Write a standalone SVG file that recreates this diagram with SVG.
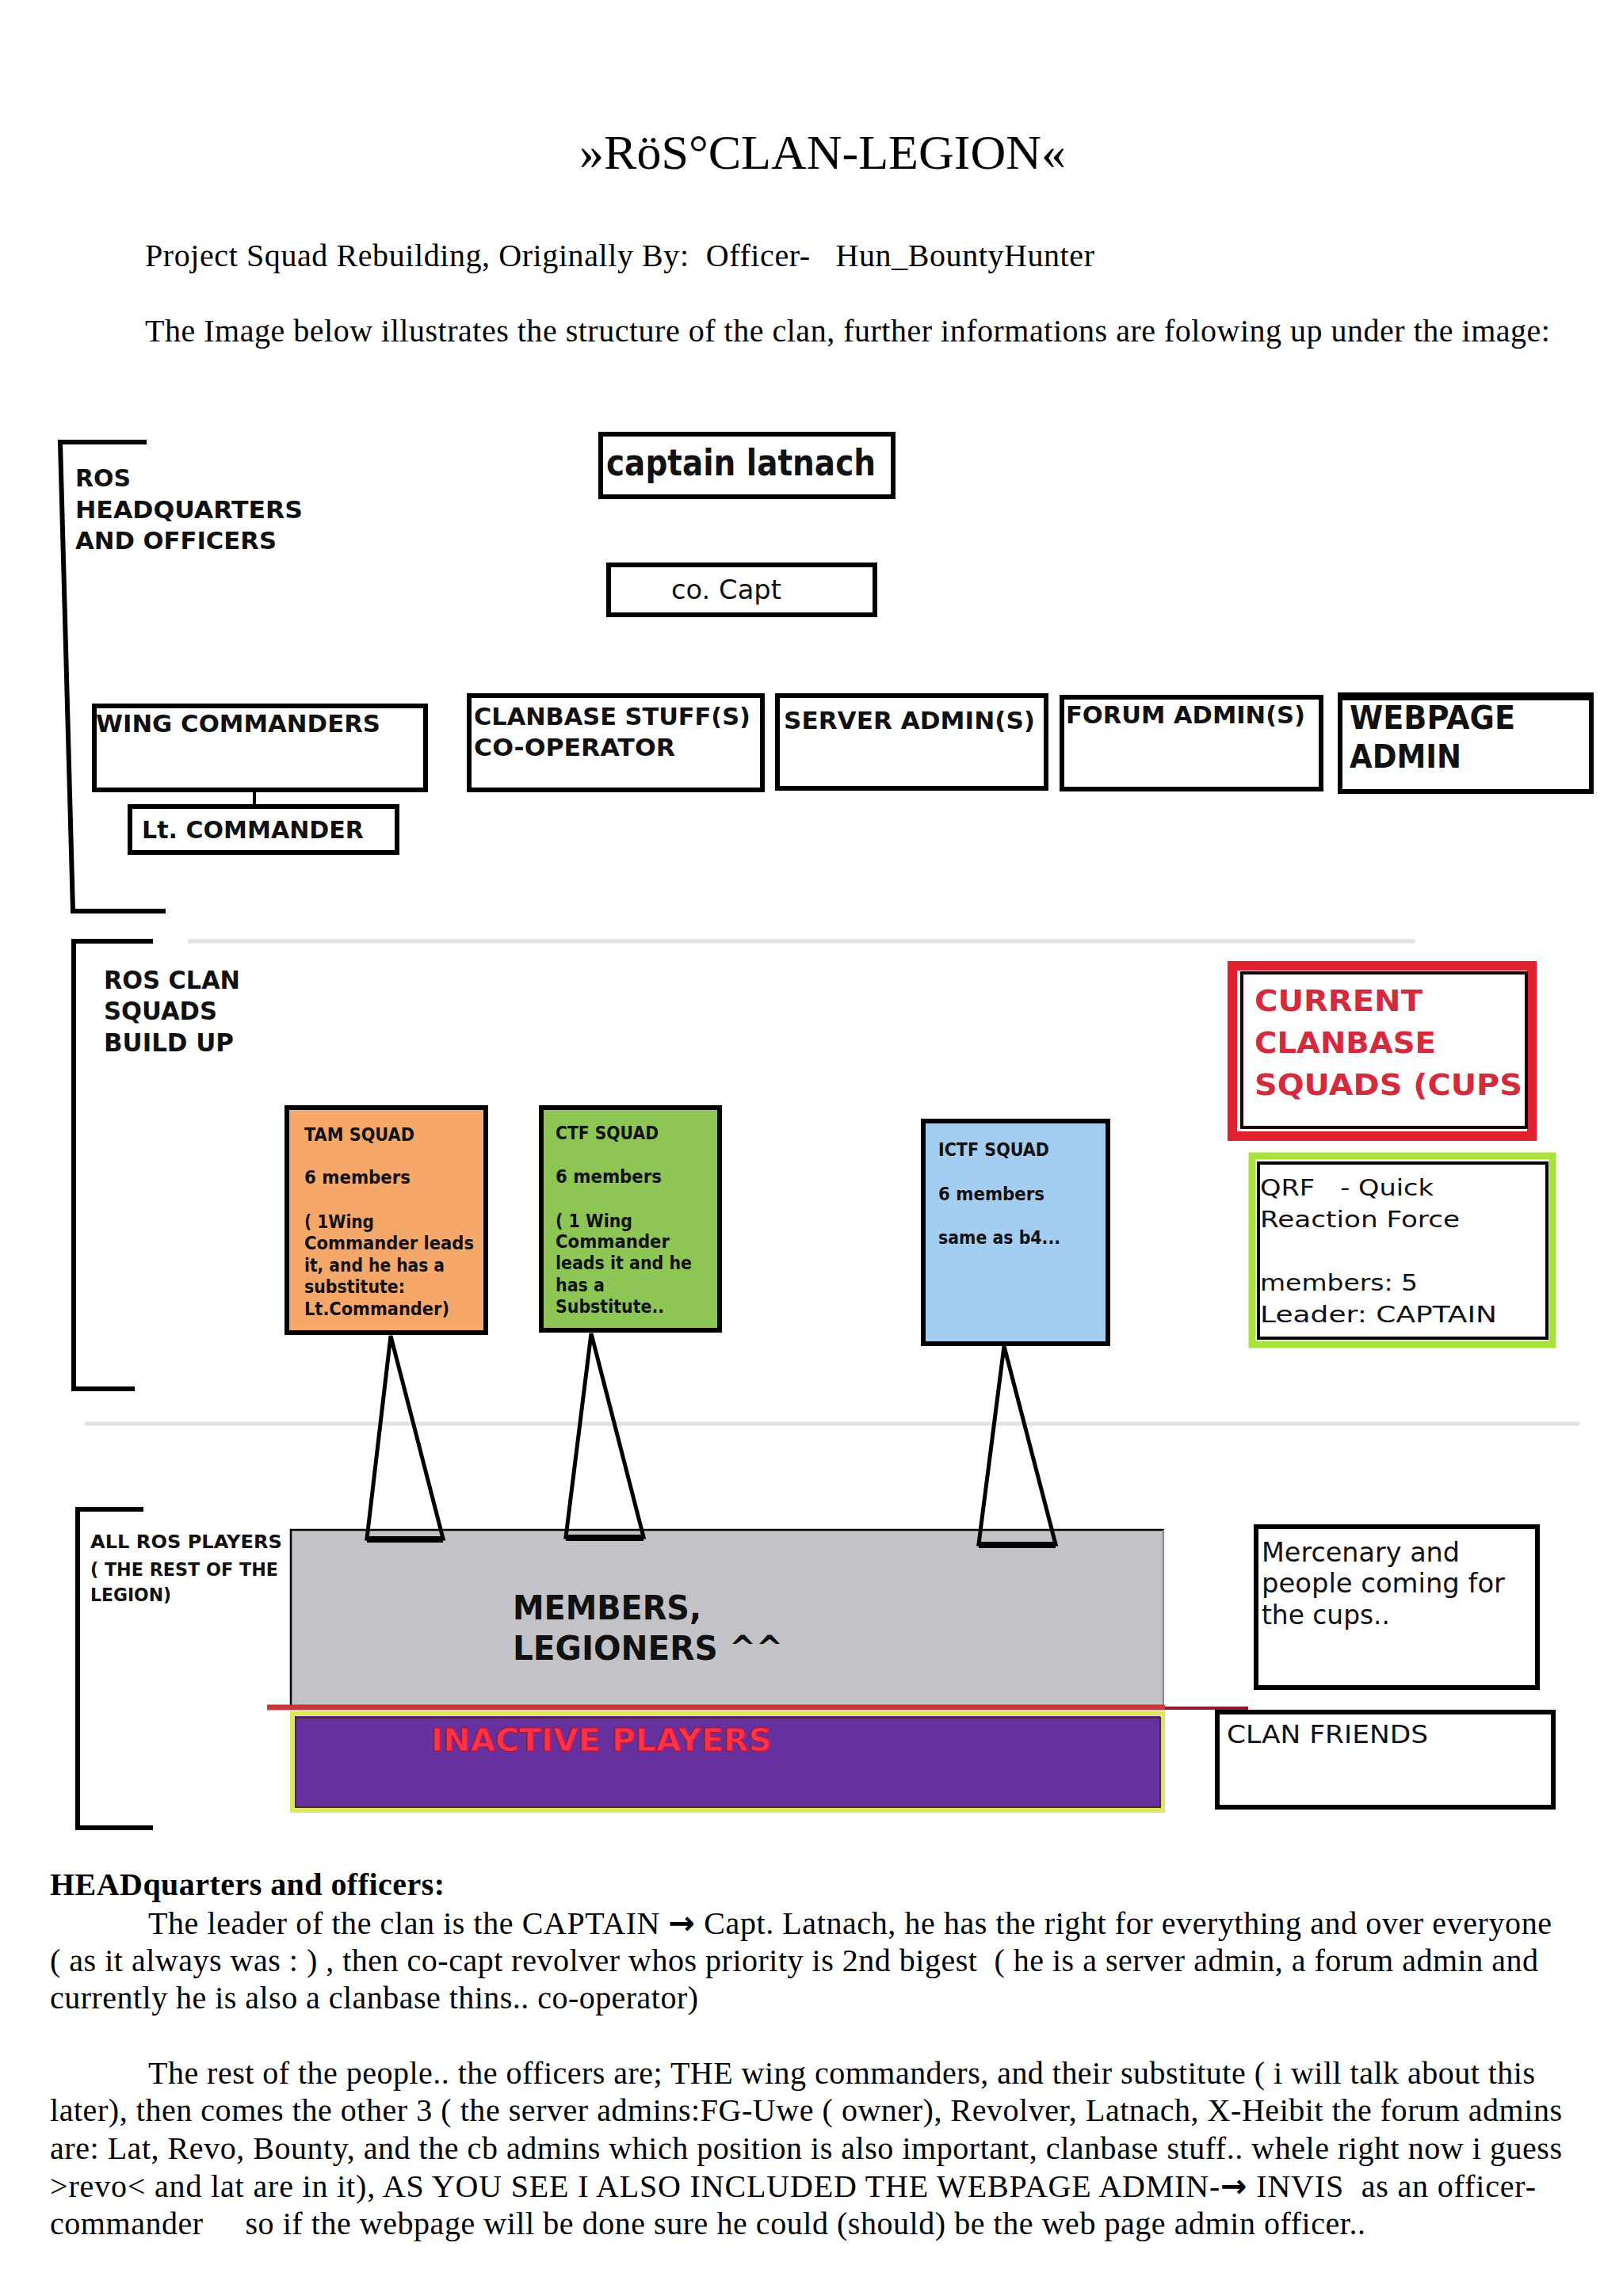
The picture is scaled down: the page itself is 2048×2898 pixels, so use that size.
<svg xmlns="http://www.w3.org/2000/svg" width="2048" height="2898" viewBox="0 0 2048 2898">
<style>
.serif{font-family:"Liberation Serif","Times New Roman",serif;fill:#000}
.d{font-family:"DejaVu Sans","Liberation Sans",sans-serif;fill:#111}
.b{font-weight:bold}
.arr{font-family:"DejaVu Sans",sans-serif;font-weight:bold}
.box{fill:#fff;stroke:#000;stroke-width:6}
.brk{fill:none;stroke:#000;stroke-width:6}
.sep{stroke:#e2e2e2;stroke-width:5}
.stand{fill:none;stroke:#000;stroke-width:5;stroke-linejoin:miter}
.bar{stroke:#000;stroke-width:8}
</style>
<rect width="2048" height="2898" fill="#fff"/>

<g id="header">
<text class="serif" x="1038" y="213" font-size="62" text-anchor="middle" textLength="614" lengthAdjust="spacingAndGlyphs">»RöS°CLAN-LEGION«</text>
<text class="serif" x="183" y="336" font-size="40" xml:space="preserve" textLength="1198" lengthAdjust="spacing">Project Squad Rebuilding, Originally By:  Officer-   Hun_BountyHunter</text>
<text class="serif" x="183" y="431" font-size="40" textLength="1773" lengthAdjust="spacing">The Image below illustrates the structure of the clan, further informations are folowing up under the image:</text>
</g>

<g id="brackets">
<path class="brk" d="M185,558 L76,558 L92,1150 L209,1150"/>
<path class="brk" d="M193,1188 L93,1188 L93,1753 L170,1753"/>
<path class="brk" d="M181,1905 L98,1905 L98,2307 L193,2307"/>
<line class="sep" x1="237" y1="1188" x2="1786" y2="1188"/>
<line class="sep" x1="107" y1="1797" x2="1993" y2="1797"/>
</g>

<g id="label-hq">
<text class="d b" font-size="31" x="95" y="614" textLength="70" lengthAdjust="spacingAndGlyphs">ROS</text>
<text class="d b" font-size="31" x="95" y="654" textLength="287" lengthAdjust="spacingAndGlyphs">HEADQUARTERS</text>
<text class="d b" font-size="31" x="95" y="693" textLength="254" lengthAdjust="spacingAndGlyphs">AND OFFICERS</text>
</g>

<g id="captain">
<rect class="box" x="758" y="548" width="369" height="79"/>
<text class="d b" font-size="47" x="765" y="600" textLength="340" lengthAdjust="spacingAndGlyphs">captain latnach</text>
</g>

<g id="co-capt">
<rect class="box" x="768" y="713" width="336" height="63"/>
<text class="d" font-size="33" x="847" y="756" textLength="139" lengthAdjust="spacingAndGlyphs">co. Capt</text>
</g>

<g id="wing-commanders">
<rect class="box" x="119" y="891" width="418" height="106"/>
<text class="d b" font-size="31" x="121" y="924" textLength="359" lengthAdjust="spacingAndGlyphs">WING COMMANDERS</text>
</g>

<g id="lt-commander">
<rect class="box" x="164" y="1018" width="337" height="58"/>
<text class="d b" font-size="31" x="179" y="1058" textLength="280" lengthAdjust="spacingAndGlyphs">Lt. COMMANDER</text>
</g>

<g id="clanbase-stuff">
<rect class="box" x="592" y="878" width="370" height="119"/>
<text class="d b" font-size="31" x="598" y="915" textLength="349" lengthAdjust="spacingAndGlyphs">CLANBASE STUFF(S)</text>
<text class="d b" font-size="31" x="598" y="954" textLength="254" lengthAdjust="spacingAndGlyphs">CO-OPERATOR</text>
</g>

<g id="server-admin">
<rect class="box" x="981" y="878" width="339" height="117"/>
<text class="d b" font-size="31" x="989" y="920" textLength="317" lengthAdjust="spacingAndGlyphs">SERVER ADMIN(S)</text>
</g>

<g id="forum-admin">
<rect class="box" x="1340" y="880" width="327" height="116"/>
<text class="d b" font-size="31" x="1345" y="913" textLength="302" lengthAdjust="spacingAndGlyphs">FORUM ADMIN(S)</text>
</g>

<g id="webpage-admin">
<rect class="box" x="1691" y="879" width="317" height="120" stroke-width="7"/>
<line x1="1688" y1="879" x2="2011" y2="879" stroke="#000" stroke-width="10"/>
<text class="d b" font-size="40" x="1703" y="920" textLength="209" lengthAdjust="spacingAndGlyphs">WEBPAGE</text>
<text class="d b" font-size="40" x="1703" y="969" textLength="141" lengthAdjust="spacingAndGlyphs">ADMIN</text>
</g>

<g id="label-squads">
<text class="d b" font-size="32" x="131" y="1248" textLength="172" lengthAdjust="spacingAndGlyphs">ROS CLAN</text>
<text class="d b" font-size="32" x="131" y="1287" textLength="143" lengthAdjust="spacingAndGlyphs">SQUADS</text>
<text class="d b" font-size="32" x="131" y="1327" textLength="164" lengthAdjust="spacingAndGlyphs">BUILD UP</text>
</g>

<g id="tam-squad">
<rect x="362" y="1398" width="251" height="284" fill="#f6a86a" stroke="#000" stroke-width="6"/>
<g class="d b" font-size="23">
<text x="384" y="1440" textLength="139" lengthAdjust="spacingAndGlyphs">TAM SQUAD</text>
<text x="384" y="1494" textLength="134" lengthAdjust="spacingAndGlyphs">6 members</text>
<text x="384" y="1550" textLength="88" lengthAdjust="spacingAndGlyphs">( 1Wing</text>
<text x="384" y="1577" textLength="214" lengthAdjust="spacingAndGlyphs">Commander leads</text>
<text x="384" y="1605" textLength="177" lengthAdjust="spacingAndGlyphs">it, and he has a</text>
<text x="384" y="1632" textLength="127" lengthAdjust="spacingAndGlyphs">substitute:</text>
<text x="384" y="1660" textLength="183" lengthAdjust="spacingAndGlyphs">Lt.Commander)</text>
</g>
</g>

<g id="ctf-squad">
<rect x="683" y="1398" width="225" height="281" fill="#8dc655" stroke="#000" stroke-width="6"/>
<g class="d b" font-size="23">
<text x="701" y="1438" textLength="130" lengthAdjust="spacingAndGlyphs">CTF SQUAD</text>
<text x="701" y="1493" textLength="134" lengthAdjust="spacingAndGlyphs">6 members</text>
<text x="701" y="1549" textLength="97" lengthAdjust="spacingAndGlyphs">( 1 Wing</text>
<text x="701" y="1575" textLength="144" lengthAdjust="spacingAndGlyphs">Commander</text>
<text x="701" y="1602" textLength="172" lengthAdjust="spacingAndGlyphs">leads it and he</text>
<text x="701" y="1630" textLength="62" lengthAdjust="spacingAndGlyphs">has a</text>
<text x="701" y="1657" textLength="137" lengthAdjust="spacingAndGlyphs">Substitute..</text>
</g>
</g>

<g id="ictf-squad">
<rect x="1165" y="1415" width="233" height="281" fill="#a3cdf1" stroke="#000" stroke-width="6"/>
<g class="d b" font-size="23">
<text x="1184" y="1459" textLength="140" lengthAdjust="spacingAndGlyphs">ICTF SQUAD</text>
<text x="1184" y="1515" textLength="134" lengthAdjust="spacingAndGlyphs">6 members</text>
<text x="1184" y="1570" textLength="154" lengthAdjust="spacingAndGlyphs">same as b4...</text>
</g>
</g>

<g id="current-clanbase-squads">
<rect x="1555" y="1219" width="378" height="215" fill="#fff" stroke="#e0202e" stroke-width="12"/>
<rect x="1567" y="1228" width="359" height="195" fill="none" stroke="#1a0000" stroke-width="4"/>
<g class="d b" font-size="38" style="fill:#d42a3c">
<text x="1583" y="1276" textLength="212" lengthAdjust="spacingAndGlyphs">CURRENT</text>
<text x="1583" y="1329" textLength="229" lengthAdjust="spacingAndGlyphs">CLANBASE</text>
<text x="1583" y="1382" textLength="338" lengthAdjust="spacingAndGlyphs">SQUADS (CUPS</text>
</g>
</g>

<g id="qrf">
<rect x="1580" y="1459" width="379" height="238" fill="#fff" stroke="#a9e23c" stroke-width="9"/>
<rect x="1588" y="1468" width="364" height="221" fill="none" stroke="#000" stroke-width="4"/>
<g class="d" font-size="29">
<text x="1590" y="1509" xml:space="preserve" textLength="219" lengthAdjust="spacingAndGlyphs">QRF   - Quick</text>
<text x="1590" y="1549" textLength="252" lengthAdjust="spacingAndGlyphs">Reaction Force</text>
<text x="1590" y="1629" textLength="199" lengthAdjust="spacingAndGlyphs">members: 5</text>
<text x="1590" y="1669" textLength="299" lengthAdjust="spacingAndGlyphs">Leader: CAPTAIN</text>
</g>
</g>

<g id="label-players">
<text class="d b" font-size="23" x="114" y="1954" textLength="242" lengthAdjust="spacingAndGlyphs">ALL ROS PLAYERS</text>
<text class="d b" font-size="23" x="114" y="1989" textLength="237" lengthAdjust="spacingAndGlyphs">( THE REST OF THE</text>
<text class="d b" font-size="23" x="114" y="2021" textLength="102" lengthAdjust="spacingAndGlyphs">LEGION)</text>
</g>

<g id="members-legioners">
<rect x="366" y="1930" width="1103" height="225" fill="#c3c3c7"/>
<path d="M367,2154 V1931 H1469" fill="none" stroke="#000" stroke-width="2.5"/>
<line x1="1468" y1="1931" x2="1468" y2="2154" stroke="#8a8a8a" stroke-width="2"/>
<text class="d b" font-size="42" x="647" y="2044" textLength="238" lengthAdjust="spacingAndGlyphs">MEMBERS,</text>
<text class="d b" font-size="42" x="647" y="2095" textLength="341" lengthAdjust="spacingAndGlyphs">LEGIONERS ^^</text>
</g>

<g id="inactive-players">
<rect x="369" y="2163" width="1098" height="122" fill="#66309e" stroke="#dde862" stroke-width="6"/>
<rect x="373" y="2168" width="1091" height="113" fill="none" stroke="#4a2838" stroke-width="2"/>
<text class="d b" font-size="39" x="544" y="2210" textLength="430" lengthAdjust="spacingAndGlyphs" style="fill:#ff3348;stroke:#b8102c;stroke-width:1">INACTIVE PLAYERS</text>
</g>

<g id="mercenary">
<rect class="box" x="1585" y="1927" width="355" height="203"/>
<text class="d" font-size="33" x="1592" y="1971" textLength="250" lengthAdjust="spacingAndGlyphs">Mercenary and</text>
<text class="d" font-size="33" x="1592" y="2010" textLength="307" lengthAdjust="spacingAndGlyphs">people coming for</text>
<text class="d" font-size="33" x="1592" y="2050" textLength="162" lengthAdjust="spacingAndGlyphs">the cups..</text>
</g>

<g id="clan-friends">
<rect class="box" x="1536" y="2161" width="424" height="120"/>
<text class="d" font-size="32" x="1548" y="2200" textLength="254" lengthAdjust="spacingAndGlyphs">CLAN FRIENDS</text>
</g>

<g id="connectors">
<line x1="321" y1="997" x2="321" y2="1018" stroke="#000" stroke-width="4"/>
<path class="stand" d="M493,1686 L463,1942 L559,1942 Z"/>
<line class="bar" x1="463" y1="1943" x2="559" y2="1943"/>
<path class="stand" d="M746,1683 L714,1940 L812,1940 Z"/>
<line class="bar" x1="714" y1="1941" x2="812" y2="1941"/>
<path class="stand" d="M1267,1699 L1235,1949 L1332,1949 Z"/>
<line class="bar" x1="1235" y1="1950" x2="1332" y2="1950"/>
<line x1="337" y1="2155" x2="1470" y2="2155" stroke="#c8383c" stroke-width="7"/>
<line x1="1470" y1="2156" x2="1575" y2="2156" stroke="#8c1c2c" stroke-width="4"/>
</g>

<g id="body-text" class="serif" font-size="40">
<text x="63" y="2392" font-weight="bold" textLength="498" lengthAdjust="spacing">HEADquarters and officers:</text>
<text x="187" y="2441" textLength="1771" lengthAdjust="spacing">The leader of the clan is the CAPTAIN <tspan class="arr">→</tspan> Capt. Latnach, he has the right for everything and over everyone</text>
<text x="63" y="2488" xml:space="preserve" textLength="1878" lengthAdjust="spacing">( as it always was : ) , then co-capt revolver whos priority is 2nd bigest  ( he is a server admin, a forum admin and</text>
<text x="63" y="2535" textLength="818" lengthAdjust="spacing">currently he is also a clanbase thins.. co-operator)</text>
<text x="187" y="2630" textLength="1750" lengthAdjust="spacing">The rest of the people.. the officers are; THE wing commanders, and their substitute ( i will talk about this</text>
<text x="63" y="2677" textLength="1908" lengthAdjust="spacing">later), then comes the other 3 ( the server admins:FG-Uwe ( owner), Revolver, Latnach, X-Heibit the forum admins</text>
<text x="63" y="2725" textLength="1908" lengthAdjust="spacing">are: Lat, Revo, Bounty, and the cb admins which position is also important, clanbase stuff.. whele right now i guess</text>
<text x="63" y="2773" xml:space="preserve" textLength="1875" lengthAdjust="spacing">&gt;revo&lt; and lat are in it), AS YOU SEE I ALSO INCLUDED THE WEBPAGE ADMIN-<tspan class="arr">→</tspan> INVIS  as an officer-</text>
<text x="63" y="2820" xml:space="preserve" textLength="1660" lengthAdjust="spacing">commander     so if the webpage will be done sure he could (should) be the web page admin officer..</text>
</g>
</svg>
